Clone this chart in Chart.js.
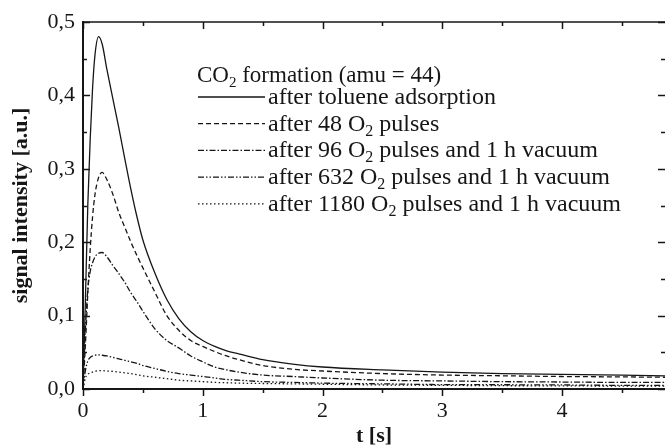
<!DOCTYPE html>
<html>
<head>
<meta charset="utf-8">
<script src="https://cdn.jsdelivr.net/npm/chart.js@4.4.1/dist/chart.umd.min.js"></script>
<style>
  body { margin: 0; background: #fff; overflow: hidden; }
  #wrap { width: 665px; height: 447px; }
</style>
</head>
<body>
<div id="wrap"><canvas id="co2Chart" width="665" height="447"></canvas></div>
<script>
// time axis [s], shared by every curve
const times = [0, 0.02, 0.04, 0.06, 0.08, 0.1, 0.13, 0.16, 0.2, 0.25, 0.3, 0.35, 0.4, 0.45, 0.5,
               0.6, 0.7, 0.8, 0.9, 1.0, 1.1, 1.2, 1.3, 1.5, 1.75, 2.0, 2.5, 3.0, 3.5, 4.0, 4.5, 4.86];

// signal intensity [a.u.]
const afterToluene = [0, 0.12, 0.25, 0.34, 0.41, 0.455, 0.48, 0.47, 0.435, 0.395, 0.355, 0.313, 0.272, 0.235, 0.203,
                      0.158, 0.122, 0.096, 0.078, 0.066, 0.058, 0.052, 0.048, 0.040, 0.034, 0.030, 0.026, 0.023, 0.021, 0.020, 0.019, 0.018];
const after48 = [0, 0.06, 0.13, 0.19, 0.235, 0.265, 0.288, 0.295, 0.285, 0.265, 0.24, 0.22, 0.200, 0.182, 0.165,
                 0.132, 0.100, 0.080, 0.066, 0.058, 0.051, 0.045, 0.040, 0.032, 0.027, 0.0245, 0.021, 0.019, 0.018, 0.017, 0.0165, 0.016];
const after96 = [0, 0.08, 0.135, 0.16, 0.172, 0.18, 0.185, 0.186, 0.18, 0.168, 0.157, 0.145, 0.131, 0.119, 0.106,
                 0.082, 0.066, 0.056, 0.045, 0.037, 0.030, 0.026, 0.023, 0.019, 0.017, 0.015, 0.012, 0.011, 0.010, 0.0095, 0.009, 0.009];
const after632 = [0, 0.025, 0.038, 0.043, 0.045, 0.046, 0.0465, 0.046, 0.045, 0.043, 0.041, 0.039, 0.037, 0.035, 0.032,
                  0.028, 0.024, 0.021, 0.019, 0.017, 0.015, 0.013, 0.012, 0.010, 0.009, 0.008, 0.007, 0.006, 0.0058, 0.0055, 0.005, 0.005];
const after1180 = [0, 0.015, 0.02, 0.022, 0.023, 0.024, 0.025, 0.025, 0.0245, 0.024, 0.023, 0.022, 0.021, 0.0195, 0.018,
                   0.016, 0.014, 0.012, 0.011, 0.010, 0.009, 0.0085, 0.008, 0.0075, 0.007, 0.0065, 0.0055, 0.005, 0.0045, 0.0043, 0.004, 0.004];

const xTicks = [0, 1, 2, 3, 4];
const yTicks = [0, 0.1, 0.2, 0.3, 0.4, 0.5];
const xMax = 4.86;

const serif = '"Liberation Serif", "Times New Roman", serif';
const ink = '#161616';

const series = [
    { label: ["after toluene adsorption"], values: afterToluene, dash: [] },
    { label: ["after 48 O", "2", " pulses"], values: after48, dash: [5, 3] },
    { label: ["after 96 O", "2", " pulses and 1 h vacuum"], values: after96, dash: [6, 2, 1.5, 2] },
    { label: ["after 632 O", "2", " pulses and 1 h vacuum"], values: after632, dash: [6, 2, 1.5, 2, 1.5, 2] },
    { label: ["after 1180 O", "2", " pulses and 1 h vacuum"], values: after1180, dash: [1.5, 2.5] }
];

// text with a subscript part: [normal, sub, normal, ...]
function drawRich(ctx, parts, x, y, size) {
    parts.forEach((p, i) => {
        const sub = i % 2 === 1;
        ctx.font = (sub ? Math.round(size * 0.65) : size) + 'px ' + serif;
        ctx.fillText(p, x, sub ? y + 5 : y);
        x += ctx.measureText(p).width;
    });
}

// frame and tick marks (top/left/right inward, bottom outward)
const framePlugin = {
    id: 'frame',
    afterDatasetsDraw(chart) {
        const { ctx, chartArea: a, scales: { x, y } } = chart;
        ctx.save();
        ctx.strokeStyle = ink;
        ctx.lineWidth = 1.5;
        ctx.beginPath();
        ctx.moveTo(a.left, a.top);
        ctx.lineTo(a.right, a.top);
        ctx.stroke();

        for (let t = 0; t <= xMax; t += 0.5) {
            const px = Math.round(x.getPixelForValue(t)) + 0.5;
            const len = xTicks.includes(t) ? 7 : 4;
            ctx.beginPath();
            ctx.moveTo(px, a.bottom); ctx.lineTo(px, a.bottom + len);
            ctx.moveTo(px, a.top); ctx.lineTo(px, a.top + len);
            ctx.stroke();
        }
        for (let i = 0; i <= 10; i++) {
            const py = Math.round(y.getPixelForValue(i * 0.05)) + 0.5;
            const len = i % 2 === 0 ? 7 : 4;
            ctx.beginPath();
            ctx.moveTo(a.left, py); ctx.lineTo(a.left + len, py);
            ctx.moveTo(a.right, py); ctx.lineTo(a.right - len, py);
            ctx.stroke();
        }
        ctx.restore();
    }
};

// in-plot legend
const legendPlugin = {
    id: 'co2Legend',
    afterDatasetsDraw(chart) {
        const ctx = chart.ctx;
        ctx.save();
        ctx.fillStyle = ink;
        ctx.strokeStyle = ink;
        ctx.textBaseline = 'alphabetic';
        drawRich(ctx, ["CO", "2", " formation (amu = 44)"], 197, 82, 23);
        series.forEach((s, i) => {
            const cy = 97 + i * 26.7;
            ctx.lineWidth = 1.3;
            ctx.setLineDash(s.dash);
            ctx.beginPath();
            ctx.moveTo(198, cy);
            ctx.lineTo(265, cy);
            ctx.stroke();
            ctx.setLineDash([]);
            drawRich(ctx, s.label, 268, cy + 7, 24);
        });
        ctx.restore();
    }
};

new Chart(document.getElementById('co2Chart'), {
    type: 'line',
    data: {
        datasets: series.map(s => ({
            label: s.label.join(''),
            data: times.map((t, i) => ({ x: t, y: s.values[i] })),
            borderColor: ink,
            borderWidth: 1.3,
            borderDash: s.dash,
            pointRadius: 0,
            fill: false,
            cubicInterpolationMode: 'monotone'
        }))
    },
    options: {
        responsive: false,
        animation: false,
        layout: { padding: { left: 10, right: 0, top: 22, bottom: 0 } },
        plugins: { legend: { display: false }, tooltip: { enabled: false } },
        scales: {
            x: {
                type: 'linear',
                min: 0,
                max: xMax,
                afterBuildTicks: s => { s.ticks = xTicks.map(v => ({ value: v })); },
                afterFit: s => { s.height = 58; },
                ticks: { color: ink, font: { family: serif, size: 22 }, padding: 9, maxRotation: 0 },
                grid: { display: false, drawTicks: false, drawOnChartArea: false },
                border: { display: true, width: 2, color: ink },
                title: { display: true, text: 't [s]', color: ink, padding: 0,
                         font: { family: serif, size: 22, weight: 'bold', lineHeight: 1 } }
            },
            y: {
                min: 0,
                max: 0.5,
                afterBuildTicks: s => { s.ticks = yTicks.map(v => ({ value: v })); },
                afterFit: s => { s.width = 73; },
                ticks: { color: ink, font: { family: serif, size: 22 }, padding: 8,
                         callback: v => v.toFixed(1).replace('.', ',') },
                grid: { display: false, drawTicks: false, drawOnChartArea: false },
                border: { display: true, width: 2, color: ink },
                title: { display: true, text: 'signal intensity [a.u.]', color: ink, padding: 0,
                         font: { family: serif, size: 22, weight: 'bold', lineHeight: 1 } }
            }
        }
    },
    plugins: [framePlugin, legendPlugin]
});
</script>
</body>
</html>
